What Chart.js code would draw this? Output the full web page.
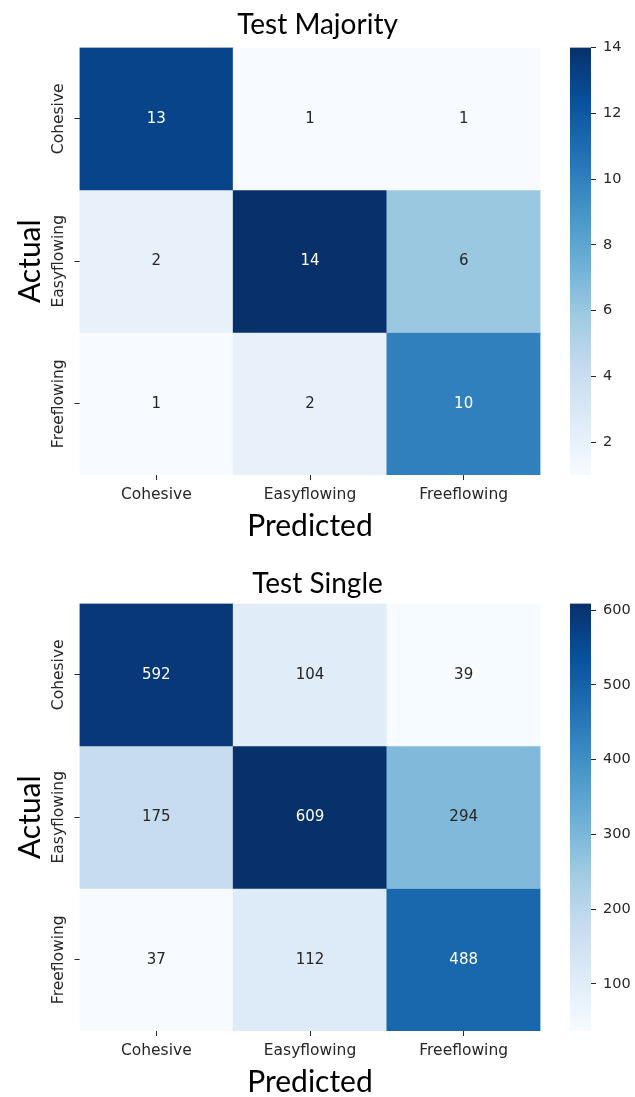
<!DOCTYPE html>
<html>
<head>
<meta charset="utf-8">
<script src="https://cdn.jsdelivr.net/npm/chart.js@4.4.1/dist/chart.umd.min.js"></script>
<style>
html, body { margin: 0; padding: 0; background: #fff; overflow: hidden; }
.panel { position: relative; width: 635px; height: 556px; }
.panel canvas { position: absolute; left: 0; top: 0; }
</style>
</head>
<body>
<div class="panel">
  <canvas id="heatMajority" width="635" height="556"></canvas>
  <canvas id="barMajority" width="635" height="556"></canvas>
</div>
<div class="panel">
  <canvas id="heatSingle" width="635" height="556"></canvas>
  <canvas id="barSingle" width="635" height="556"></canvas>
</div>
<script>
// categories (same for predicted and actual)
const labels = ['Cohesive', 'Easyflowing', 'Freeflowing'];

// Test Majority, one array per actual class
const majorityCohesive = [13, 1, 1];
const majorityEasyflowing = [2, 14, 6];
const majorityFreeflowing = [1, 2, 10];
const majorityTicks = [2, 4, 6, 8, 10, 12, 14];

// Test Single
const singleCohesive = [592, 104, 39];
const singleEasyflowing = [175, 609, 294];
const singleFreeflowing = [37, 112, 488];
const singleTicks = [100, 200, 300, 400, 500, 600];

Chart.defaults.font.family = 'DejaVu Sans';
const tickColor = '#262626';

// matplotlib "Blues"
const blues = ['#f7fbff', '#deebf7', '#c6dbef', '#9ecae1', '#6baed6', '#4292c6', '#2171b5', '#08519c', '#08306b'];
const bluesRgb = blues.map(h => [1, 3, 5].map(k => parseInt(h.substr(k, 2), 16)));

function bluesColor(t) {
    t = Math.max(0, Math.min(1, t));
    const p = t * (bluesRgb.length - 1);
    const i = Math.min(Math.floor(p), bluesRgb.length - 2);
    const f = p - i;
    return bluesRgb[i].map((c, k) => Math.round(c + (bluesRgb[i + 1][k] - c) * f));
}

function luminance(rgb) {
    const lin = rgb.map(c => {
        c = c / 255;
        return c <= 0.03928 ? c / 12.92 : Math.pow((c + 0.055) / 1.055, 2.4);
    });
    return 0.2126 * lin[0] + 0.7152 * lin[1] + 0.0722 * lin[2];
}

const annotate = {
    id: 'annotate',
    afterDatasetsDraw(chart) {
        const ctx = chart.ctx;
        ctx.save();
        ctx.font = '15px "DejaVu Sans"';
        ctx.textAlign = 'center';
        ctx.textBaseline = 'middle';
        chart.data.datasets.forEach((ds, i) => {
            chart.getDatasetMeta(i).data.forEach((bar, j) => {
                ctx.fillStyle = ds.textColors[j];
                ctx.fillText(String(ds.values[j]), bar.x, (bar.y + bar.base) / 2);
            });
        });
        ctx.restore();
    }
};

function makeHeatmap(id, barId, title, rows, cbTicks, titleTop) {
    const all = rows.flat();
    const vmin = Math.min(...all);
    const vmax = Math.max(...all);

    const datasets = rows.map((row, i) => {
        const cols = row.map(v => bluesColor((v - vmin) / (vmax - vmin)));
        return {
            data: row.map(() => [i, i + 1]),
            values: row,
            backgroundColor: cols.map(c => `rgb(${c[0]},${c[1]},${c[2]})`),
            textColors: cols.map(c => luminance(c) > 0.408 ? tickColor : '#ffffff'),
            borderWidth: 0,
            grouped: false,
            barPercentage: 1,
            categoryPercentage: 1
        };
    });

    new Chart(document.getElementById(id), {
        type: 'bar',
        data: { labels: labels, datasets: datasets },
        options: {
            responsive: false,
            animation: false,
            events: [],
            layout: { padding: 0 },
            plugins: {
                legend: { display: false },
                tooltip: { enabled: false },
                title: {
                    display: true,
                    text: title,
                    color: '#000',
                    font: { family: 'Lato', size: 28, weight: 'normal' },
                    padding: { top: titleTop, bottom: 47.5 - 33.6 - titleTop }
                }
            },
            scales: {
                x: {
                    type: 'category',
                    offset: true,
                    grid: { offset: false, drawOnChartArea: false, tickLength: 5, color: tickColor },
                    border: { display: false },
                    ticks: { color: tickColor, font: { size: 15.5 }, padding: 6, maxRotation: 0, autoSkip: false },
                    title: {
                        display: true,
                        text: 'Predicted',
                        color: '#000',
                        font: { family: 'Lato', size: 30 },
                        padding: { top: 0, bottom: 12 }
                    },
                    afterFit: s => { s.height = 81; }
                },
                y: {
                    type: 'linear',
                    min: 0,
                    max: labels.length,
                    reverse: true,
                    afterBuildTicks: s => { s.ticks = labels.map((_, i) => ({ value: i + 0.5 })); },
                    grid: { drawOnChartArea: false, tickLength: 5, color: tickColor },
                    border: { display: false },
                    ticks: {
                        color: tickColor,
                        font: { size: 15.5 },
                        callback: v => labels[Math.floor(v)],
                        minRotation: 90,
                        maxRotation: 90,
                        crossAlign: 'center',
                        padding: -31
                    },
                    title: {
                        display: true,
                        text: 'Actual',
                        color: '#000',
                        font: { family: 'Lato', size: 30 },
                        padding: { top: 12, bottom: 0 }
                    },
                    afterFit: s => { s.width = 79.5; }
                },
                // empty strip on the right, where the colour bar sits
                side: {
                    type: 'linear',
                    position: 'right',
                    grid: { display: false },
                    border: { display: false },
                    ticks: { display: false },
                    afterFit: s => { s.width = 94.5; }
                }
            }
        },
        plugins: [annotate]
    });

    // colour bar
    new Chart(document.getElementById(barId), {
        type: 'bar',
        data: {
            labels: [''],
            datasets: [{
                data: [[vmin, vmax]],
                backgroundColor: c => {
                    const chart = c.chart;
                    if (!chart.chartArea) return blues[4];
                    const ys = chart.scales.y;
                    const g = chart.ctx.createLinearGradient(0, ys.getPixelForValue(vmin), 0, ys.getPixelForValue(vmax));
                    blues.forEach((col, k) => g.addColorStop(k / (blues.length - 1), col));
                    return g;
                },
                borderWidth: 0,
                barPercentage: 1,
                categoryPercentage: 1
            }]
        },
        options: {
            responsive: false,
            animation: false,
            events: [],
            layout: { padding: { left: 570, right: 0, top: 47.5, bottom: 81 } },
            plugins: { legend: { display: false }, tooltip: { enabled: false }, title: { display: false } },
            scales: {
                x: { display: false },
                y: {
                    position: 'right',
                    min: vmin,
                    max: vmax,
                    afterBuildTicks: s => { s.ticks = cbTicks.map(v => ({ value: v })); },
                    grid: { drawOnChartArea: false, tickLength: 5, color: tickColor },
                    border: { display: false },
                    ticks: { color: tickColor, font: { size: 14.5 }, padding: 7 },
                    afterFit: s => { s.width = 44; }
                }
            }
        }
    });
}

makeHeatmap('heatMajority', 'barMajority', 'Test Majority',
    [majorityCohesive, majorityEasyflowing, majorityFreeflowing], majorityTicks, 8.5);
makeHeatmap('heatSingle', 'barSingle', 'Test Single',
    [singleCohesive, singleEasyflowing, singleFreeflowing], singleTicks, 11);
</script>
</body>
</html>
